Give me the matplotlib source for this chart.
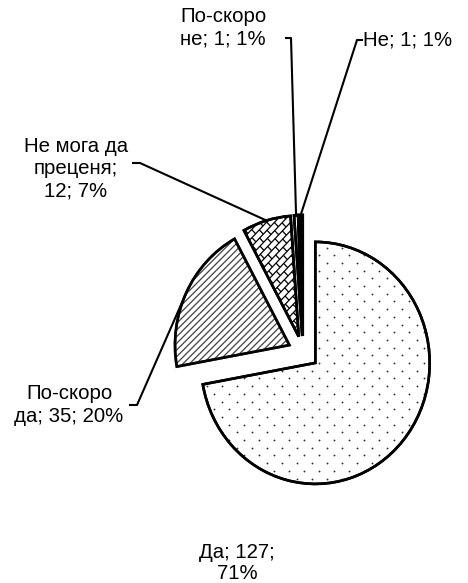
import numpy as np
import matplotlib
matplotlib.use("Agg")
import matplotlib.pyplot as plt
from matplotlib.collections import LineCollection
from matplotlib.patches import Wedge

plt.rcParams['font.family'] = ['Liberation Sans', 'DejaVu Sans']
plt.rcParams['hatch.linewidth'] = 0.9

# ---- data ----
categories = ["Да", "По-скоро да", "Не мога да\nпреценя", "По-скоро\nне", "Не"]
values = [127, 35, 12, 1, 1]
percents = [71, 20, 7, 1, 1]
label_texts = ["Да; 127;\n71%", "По-скоро\nда; 35; 20%", "Не мога да\nпреценя;\n12; 7%",
               "По-скоро\nне; 1; 1%", "Не; 1; 1%"]

W, H = 468, 583
SX = 0.945  # horizontal squeeze of the pie (pixels per x unit)
fig = plt.figure(figsize=(W / 100, H / 100), dpi=100)
ax = fig.add_axes([0, 0, 1, 1])

def X(px):
    return px / SX

R = 121
C = (X(303), H - 352)
explode = [17, 16, 16, 16, 16]

wedges, _ = ax.pie(values, explode=explode, startangle=90, counterclock=False,
                   radius=R, center=C, colors=['white'] * 5,
                   wedgeprops=dict(edgecolor='black', linewidth=1.9))
ax.set_xlim(0, W / SX)
ax.set_ylim(0, H)
ax.set_aspect('auto')
ax.axis('off')

# fills
wedges[1].set_hatch('/////')
wedges[1].set_edgecolor('#404040')
wedges[4].set_facecolor('black')

# dotted pattern for "Да"
wd = wedges[0]
cx, cy = wd.center
xs, ys = [], []
dy = 7.7
dx = 15.0 / SX
for i, yy in enumerate(np.arange(cy - R - 10, cy + R + 10, dy)):
    off = 0 if i % 2 == 0 else dx / 2
    for xx in np.arange(cx - R - 10 + off, cx + R + 10, dx):
        xs.append(xx)
        ys.append(yy)
sc = ax.scatter(xs, ys, s=1.8, color='#333333', linewidths=0, zorder=wd.get_zorder() + 0.1)
sc.set_clip_path(wd)

# diagonal brick pattern for "Не мога да преценя"
wb = wedges[2]
bx, by = wb.center
h = 6.0
w = 11.0
ang = np.deg2rad(45)
u = np.array([np.cos(ang), np.sin(ang)])
v = np.array([-np.sin(ang), np.cos(ang)])
segs = []
ext = R + 20
for j, t in enumerate(np.arange(-ext, ext, h)):
    p0 = np.array([bx, by]) + v * t - u * ext
    p1 = np.array([bx, by]) + v * t + u * ext
    segs.append([p0, p1])
    off = 0 if j % 2 == 0 else w / 2
    for s in np.arange(-ext + off, ext, w):
        q0 = np.array([bx, by]) + v * t + u * s
        q1 = q0 + v * h
        segs.append([q0, q1])
lc = LineCollection(segs, colors='black', linewidths=0.9, zorder=wb.get_zorder() + 0.1)
ax.add_collection(lc)
lc.set_clip_path(wb)

# outlines on top
for wg in wedges:
    ax.add_patch(Wedge(wg.center, wg.r, wg.theta1, wg.theta2,
                       facecolor='none', edgecolor='black', linewidth=1.9, zorder=5))

def arc_point(wg, frac=0.5):
    th = np.deg2rad(wg.theta1 + (wg.theta2 - wg.theta1) * frac)
    return wg.center[0] + wg.r * np.cos(th), wg.center[1] + wg.r * np.sin(th)

fs = 14.7
# label 0: Да (no leader)
ax.text(X(237), H - 563, label_texts[0], ha='center', va='center', fontsize=fs, linespacing=1.15)

# label 1: По-скоро да
ax.text(X(69), H - 405, label_texts[1], ha='center', va='center', fontsize=fs, linespacing=1.3)
px, py = arc_point(wedges[1])
ax.plot([X(130), X(137), px], [H - 405, H - 405, py], color='black', lw=1.5, zorder=6)

# label 2: Не мога да преценя
ax.text(X(76), H - 169, label_texts[2], ha='center', va='center', fontsize=fs, linespacing=1.2)
px, py = arc_point(wedges[2])
ax.plot([X(133), X(140), px], [H - 163, H - 163, py], color='black', lw=1.5, zorder=6)

# label 3: По-скоро не
ax.text(X(223), H - 28, label_texts[3], ha='center', va='center', fontsize=fs, linespacing=1.2)
px, py = arc_point(wedges[3])
ax.plot([X(286), X(291), px], [H - 38, H - 38, py], color='black', lw=1.5, zorder=6)

# label 4: Не
ax.text(X(363), H - 40, label_texts[4], ha='left', va='center', fontsize=fs)
px, py = arc_point(wedges[4])
ax.plot([px, X(357), X(362)], [py, H - 40, H - 40], color='black', lw=1.5, zorder=6)

fig.savefig("out.png", dpi=100)
